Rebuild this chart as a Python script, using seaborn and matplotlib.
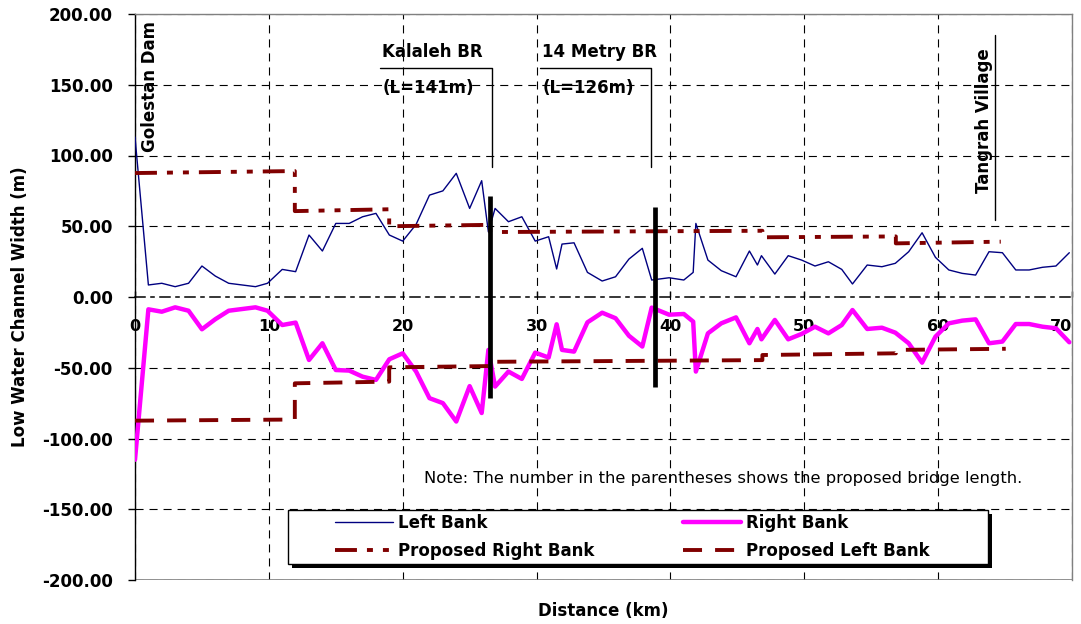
import matplotlib
matplotlib.use("Agg")
import matplotlib.pyplot as plt
import matplotlib.patches as mpatches
import numpy as np
import pandas as pd
import seaborn as sns

# ---- survey data: distance along the river (km) and low-water channel width (m)
distance_km = [0.0, 1.0, 2.0, 3.0, 4.0, 5.0, 6.0, 7.0, 9.0, 9.9,
               11.0, 12.0, 13.0, 14.0, 15.0, 16.0, 17.0, 18.0, 19.0, 20.0,
               21.0, 22.0, 23.0, 24.0, 25.0, 25.9, 26.4, 26.9, 27.9, 28.9,
               29.9, 30.9, 31.5, 31.9, 32.8, 33.8, 34.9, 35.9, 36.9, 37.9,
               38.6, 39.9, 41.0, 41.7, 41.9, 42.8, 43.8, 44.9, 45.9, 46.5,
               46.8, 47.8, 48.8, 49.8, 50.8, 51.8, 52.8, 53.6, 54.7, 55.8,
               56.8, 57.8, 58.8, 59.8, 60.8, 61.8, 62.8, 63.8, 64.8, 65.8,
               66.8, 67.8, 68.8, 69.8]

left_bank = [113, 8.5, 9.7, 7.3, 9.7, 21.9, 14.8, 9.7, 7.3, 9.7,
             19.5, 17.9, 43.8, 32.5, 52, 52, 56.7, 59.1, 43.8, 39.5,
             51.3, 72, 75, 87.4, 62.6, 82.2, 46, 62.6, 53.2, 56.7,
             39.5, 42.6, 19.8, 37.4, 38.3, 17.4, 11.3, 14.3, 26.8, 34.4,
             12, 13.6, 12, 17.4, 52, 26.1, 18.6, 14.3, 32.5, 22.6,
             29.2, 16.2, 29.2, 26.1, 21.9, 24.9, 19.5, 9.2, 22.6, 21.4,
             23.8, 32, 45.4, 28, 19.1, 16.7, 15.5, 32, 31.3, 19.1,
             19.1, 21, 21.9, 31.3]

right_bank = [-115, -8.7, -10.4, -7.3, -9.7, -22.8, -15.7, -9.7, -7.3, -9.7,
              -19.8, -18.1, -44.5, -32.7, -51.6, -52, -56.3, -58.6, -44, -39.8,
              -52.7, -71.5, -75, -88, -63, -82, -37.4, -63.3, -52.7, -57.9,
              -39.3, -42.8, -19.3, -37.4, -38.6, -17.9, -11.1, -15, -27.4, -35,
              -7.5, -12.5, -12, -17.4, -52.7, -25.7, -18.6, -14.4, -32.7, -22.6,
              -29.9, -16.2, -29.9, -26.1, -21, -25.7, -19.8, -9.2, -22.6, -21.7,
              -25.2, -32.7, -46.4, -28, -18.6, -16.7, -15.8, -32.7, -31.5, -19.1,
              -19.1, -21, -22.1, -32]

# proposed alignment (stepped design widths)
prop_right_km = [0.0, 11.94, 11.94, 18.99, 18.99, 26.54, 26.54, 46.87, 46.87, 56.84, 56.84, 64.68]
prop_right_w = [87.6, 89.0, 60.7, 62.0, 50.0, 51.0, 45.9, 46.8, 42.2, 42.8, 37.9, 39.1]
prop_left_km = [0.0, 11.94, 11.94, 18.99, 18.99, 26.54, 26.54, 46.87, 46.87, 56.84, 56.84, 65.05]
prop_left_w = [-87.4, -86.6, -61.0, -59.8, -49.7, -48.8, -45.8, -44.6, -41.0, -39.8, -37.4, -36.6]

# bridges
bridge_km = [26.54, 38.83]
bridge_half = [71.5, 63.3]
bridge_names = ["Kalaleh BR", "14 Metry BR"]
bridge_lengths = ["(L=141m)", "(L=126m)"]
bracket_left = [18.28, 30.22]
bracket_right = [26.66, 38.56]
bracket_top, bracket_bottom = 161.5, 92.0

X_MIN, X_MAX = 0, 70
Y_MIN, Y_MAX = -200, 200
x_ticks = [0, 10, 20, 30, 40, 50, 60, 70]
y_ticks = [200, 150, 100, 50, 0, -50, -100, -150, -200]

NAVY = "#000080"
MAGENTA = "#FF00FF"
DARKRED = "#800000"
GREY = "#808080"

sns.set_theme(style="white")
plt.rcParams["font.family"] = ["DejaVu Sans"]
plt.rcParams["text.color"] = "black"
plt.rcParams["axes.labelcolor"] = "black"
plt.rcParams["xtick.color"] = "black"
plt.rcParams["ytick.color"] = "black"
plt.rcParams["axes.unicode_minus"] = False
plt.rcParams["lines.scale_dashes"] = False
plt.rcParams["lines.dashed_pattern"] = [5.8, 4.3]
plt.rcParams["lines.dashdot_pattern"] = [7.2, 4.3, 2.2, 4.3]
plt.rcParams["grid.linestyle"] = "--"
plt.rcParams["grid.color"] = "black"
plt.rcParams["grid.linewidth"] = 0.8

fig = plt.figure(figsize=(10.81, 6.24), dpi=100)
ax = fig.add_axes([135 / 1081, 44 / 624, 937 / 1081, 566 / 624])

survey = pd.DataFrame({"km": distance_km, "left": left_bank, "right": right_bank})
prop_r = pd.DataFrame({"km": prop_right_km, "w": prop_right_w})
prop_l = pd.DataFrame({"km": prop_left_km, "w": prop_left_w})

sns.lineplot(data=survey, x="km", y="left", ax=ax, color=NAVY, lw=1.0,
             estimator=None, sort=False, zorder=3)
h_left = ax.lines[-1]
sns.lineplot(data=survey, x="km", y="right", ax=ax, color=MAGENTA, lw=3.2,
             estimator=None, sort=False, zorder=3)
h_right = ax.lines[-1]
sns.lineplot(data=prop_r, x="km", y="w", ax=ax, color=DARKRED, lw=2.8,
             estimator=None, sort=False, zorder=3)
h_prop_r = ax.lines[-1]
h_prop_r.set_dashes([15.8, 7.2, 4.3, 7.2, 4.3, 7.2])
sns.lineplot(data=prop_l, x="km", y="w", ax=ax, color=DARKRED, lw=2.8,
             estimator=None, sort=False, zorder=3)
h_prop_l = ax.lines[-1]
h_prop_l.set_dashes([13.7, 9.4])

# bridge piers as thick bars
ax.vlines(bridge_km, [-h for h in bridge_half], bridge_half, colors="black",
          lw=3.4, zorder=4)

# bridge labels with their brackets
for xl, xr, name, length in zip(bracket_left, bracket_right, bridge_names, bridge_lengths):
    ax.plot([xl, xr, xr], [bracket_top, bracket_top, bracket_bottom],
            color="black", lw=1.0, zorder=4)
    ax.text(xl + 0.15, 173.4, name, fontsize=12, fontweight="bold",
            ha="left", va="center", zorder=4)
    ax.text(xl + 0.2, 147.6, length, fontsize=12, fontweight="bold",
            ha="left", va="center", zorder=4)

ax.text(1.12, 148.5, "Golestan Dam", rotation=90, fontsize=12, fontweight="bold",
        ha="center", va="center", zorder=4)
ax.text(63.4, 124.3, "Tangrah Village", rotation=90, fontsize=12, fontweight="bold",
        ha="center", va="center", zorder=4)
ax.plot([64.25, 64.25], [54.4, 185.0], color="black", lw=1.0, zorder=4)

ax.text(21.6, -128.5, "Note: The number in the parentheses shows the proposed bridge length.",
        fontsize=11.8, ha="left", va="center", zorder=4)

# axes, ticks and grid
ax.set_xlim(X_MIN, X_MAX)
ax.set_ylim(Y_MIN, Y_MAX)
ax.set_xticks(x_ticks)
ax.set_yticks(y_ticks)
ax.set_yticklabels([f"{v:.2f}" for v in y_ticks])
ax.set_xticklabels([str(v) for v in x_ticks])

ax.grid(True, color="black", linewidth=0.8, linestyle="--")
for val, gl in zip(y_ticks, ax.yaxis.get_gridlines()):
    if val == 0:
        gl.set_visible(False)

ax.spines["bottom"].set_position(("data", 0))
ax.spines["bottom"].set_linestyle("-.")
ax.spines["bottom"].set_color("black")
ax.spines["bottom"].set_linewidth(1.1)
ax.spines["left"].set_color("black")
ax.spines["left"].set_linewidth(1.0)
for side in ("top", "right"):
    ax.spines[side].set_color(GREY)
    ax.spines[side].set_linewidth(1.0)
ax.axhline(Y_MIN, color=GREY, lw=1.2, zorder=2)

ax.tick_params(axis="x", direction="in", length=4, width=1, color="black",
               labelcolor="black", labelsize=11.5, pad=16, bottom=True)
ax.tick_params(axis="y", direction="out", length=5, width=1, color="black",
               labelcolor="black", labelsize=12, pad=11, left=True)
for lab in ax.get_xticklabels() + ax.get_yticklabels():
    lab.set_fontweight("bold")
# keep the last distance label inside the canvas
ax.get_xticklabels()[-1].set_horizontalalignment("right")
ax.get_xticklabels()[-1].set_x(X_MAX + 0.45)

ax.set_xlabel("Distance (km)", fontsize=12, fontweight="bold", color="black")
ax.set_ylabel("Low Water Channel Width (m)", fontsize=12, fontweight="bold", color="black")
ax.xaxis.set_label_coords(0.5, -0.038)
ax.yaxis.set_label_coords(-0.113, 0.483)

# legend box with drop shadow
shadow = mpatches.Rectangle((292 / 1081, 1 - 568 / 624), 700 / 1081, 54 / 624,
                            transform=fig.transFigure, facecolor="black",
                            edgecolor="black", lw=0, clip_on=False, zorder=6)
frame = mpatches.Rectangle((288 / 1081, 1 - 564 / 624), 700 / 1081, 54 / 624,
                           transform=fig.transFigure, facecolor="white",
                           edgecolor="black", lw=1.0, clip_on=False, zorder=6.1)
ax.add_patch(shadow)
ax.add_patch(frame)

leg = ax.legend([h_left, h_prop_r, h_right, h_prop_l],
                ["Left Bank", "Proposed Right Bank", "Right Bank", "Proposed Left Bank"],
                ncol=2, frameon=False, loc="upper left",
                bbox_to_anchor=(335 / 1081, 1 - 514 / 624), bbox_transform=fig.transFigure,
                borderpad=0, borderaxespad=0, handlelength=3.5, handletextpad=0.3,
                columnspacing=5.3, labelspacing=0.62,
                prop={"size": 12, "weight": "bold"})
leg.set_zorder(7)
for t in leg.get_texts():
    t.set_color("black")

fig.savefig("out.png", dpi=100)
